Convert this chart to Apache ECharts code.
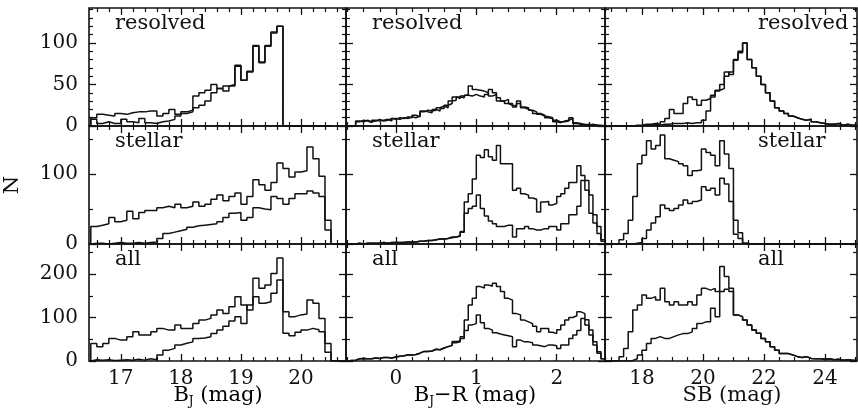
<!DOCTYPE html>
<html><head><meta charset="utf-8">
<script src="https://cdn.jsdelivr.net/npm/echarts@6/dist/echarts.min.js"></script>
<style>html,body{margin:0;padding:0;background:#fff}#c{width:858px;height:408px}</style>
</head><body><div id="c"></div><script>
// ---------- DATA ----------
// B_J histograms: bins of 0.1 mag starting at 16.5
const bjStart = 16.5, bjStep = 0.1;
const bjResolvedA = [10,14,13,12,15,14,16,17,17,18,18,12,15,20,14,17,19,36,40,43,50,45,48,50,73,55,65,97,77,97,112,120,0,0,0,0,0,0,0,0];
const bjResolvedB = [8,3,5,3,3,8,5,4,9,4,3,5,6,8,12,15,17,22,25,30,40,45,42,48,72,55,66,96,76,96,113,120,0,0,0,0,0,0,0,0];
const bjStellarA = [25,27,29,38,32,34,47,36,45,48,48,52,54,52,57,52,54,60,54,57,64,70,62,68,73,57,68,92,85,77,88,116,108,96,103,105,139,122,97,34,0,0,0];
const bjStellarB = [1,1,0,1,2,1,1,2,1,2,3,8,15,17,19,21,24,26,27,28,29,32,38,44,45,34,38,52,50,49,68,65,57,65,72,72,76,73,68,20,0,0,0];
const bjAllA = [40,33,40,52,48,48,56,67,60,60,67,75,71,71,83,75,75,86,94,98,106,117,109,125,148,129,117,190,167,175,201,237,113,102,106,108,140,133,98,40,0,0,0];
const bjAllB = [3,2,3,1,2,3,2,4,2,5,3,14,25,29,37,41,44,52,53,56,63,71,80,92,102,86,129,148,133,136,156,186,64,58,66,71,75,72,67,20,0,0,0];

// B_J - R histograms: bins of 0.05 mag starting at -0.6
const colStart = -0.6, colStep = 0.05;
const colResolvedA = [0,0,5,7,6,4,7,6,7,8,6,9,8,10,9,11,10,12,18,17,16,20,18,21,25,27,35,33,36,38,48,44,43,42,40,36,38,30,30,27,25,24,30,22,20,18,15,15,13,10,9,5,4,6,7,9,3,2,2,1,2,1,1,0];
const colResolvedB = [0,0,6,5,7,5,6,8,6,7,9,8,10,9,11,10,13,11,17,19,18,19,22,24,22,30,31,35,34,37,36,38,36,35,38,44,40,34,30,32,27,23,27,23,22,19,17,14,12,11,10,7,5,5,6,10,4,3,1,2,1,1,0,0];
const colStellarA = [0,0,1,0,1,1,1,1,2,1,2,2,2,2,3,3,3,4,4,5,5,6,7,7,8,10,10,12,18,60,72,93,127,124,135,125,120,141,115,115,115,77,80,72,70,66,64,46,60,61,56,58,68,72,80,88,88,112,98,91,70,42,25,6];
const colStellarB = [0,0,1,0,1,1,1,1,2,1,2,2,2,2,3,3,3,4,4,5,5,6,7,7,8,9,10,11,17,44,51,54,70,51,40,33,29,25,25,27,27,10,22,22,25,22,20,20,22,22,25,25,20,29,29,42,42,54,91,77,44,30,15,4];
const colAllA = [1,2,5,6,5,5,7,6,8,8,7,9,11,12,14,14,15,18,22,22,23,27,26,30,33,36,45,46,56,94,129,144,171,168,175,172,179,171,160,144,140,109,106,94,90,86,80,67,75,75,66,63,72,83,94,100,104,113,109,95,71,44,21,5];
const colAllB = [1,2,5,6,5,5,7,6,8,8,7,9,11,12,14,14,15,18,22,22,23,27,26,30,33,36,42,44,52,70,83,86,106,88,75,71,65,62,60,58,56,33,48,44,44,42,37,35,33,37,37,35,29,37,37,52,60,70,98,83,60,37,18,5];

// SB histograms: bins of 0.15 mag starting at 16.8
const sbStart = 16.8, sbStep = 0.15;
const sbResolvedA = [0,0,0,0,0,0,1,1,2,2,3,2,5,9,20,15,15,27,35,32,25,31,33,37,43,45,65,62,79,88,100,80,70,60,50,40,30,22,18,15,12,10,8,7,8,5,4,3,2,2,3,1,2,1,1];
const sbResolvedB = [0,0,0,0,0,0,0,0,1,1,2,1,2,2,3,3,3,4,3,4,4,7,18,35,42,50,60,65,80,90,100,80,70,60,50,40,30,22,18,15,12,10,8,7,8,5,4,3,2,2,3,1,2,1,1];
const sbStellarA = [0,0,0,6,15,34,68,115,127,148,136,141,156,122,120,118,115,112,98,105,106,136,131,127,112,148,129,108,34,16,1,0,0,0,0,0,0,0,0,0,0,0,0,0,0,0,0,0,0,0,0,0,0,0,0];
const sbStellarB = [0,0,0,0,0,0,1,2,8,20,30,39,56,51,48,51,56,63,58,61,63,82,77,80,70,94,86,61,14,8,1,0,0,0,0,0,0,0,0,0,0,0,0,0,0,0,0,0,0,0,0,0,0,0,0];
const sbAllA = [0,0,0,10,29,67,117,129,152,144,148,140,167,136,129,136,129,129,136,129,152,167,163,167,160,160,165,160,106,102,94,83,71,64,52,44,33,25,17,17,14,10,8,10,6,5,5,4,5,3,4,2,3,2,1];
const sbAllB = [0,0,0,0,0,1,5,14,25,40,52,56,52,52,56,60,63,63,67,75,86,90,90,121,102,217,194,167,106,102,94,83,71,64,52,44,33,25,17,17,14,10,8,10,6,5,5,4,5,3,4,2,3,2,1];

// tick labels
const bjTicks = [17,18,19,20];
const colTicks = [0,1,2];
const sbTicks = [18,20,22,24];
const resolvedTicks = [0,50,100];
const stellarTicks = [0,100];
const allTicks = [0,100,200];
const panelNames = ['resolved','stellar','all'];

// ---------- LAYOUT ----------
const cols = [
  {left:89, width:257, min:16.47, max:20.75, major:bjTicks, minorStep:0.2, start:bjStart, step:bjStep,
   data:[[bjResolvedA,bjResolvedB],[bjStellarA,bjStellarB],[bjAllA,bjAllB]]},
  {left:346, width:259, min:-0.62, max:2.6, major:colTicks, minorStep:0.2, start:colStart, step:colStep,
   data:[[colResolvedA,colResolvedB],[colStellarA,colStellarB],[colAllA,colAllB]]},
  {left:605, width:252, min:16.79, max:25.05, major:sbTicks, minorStep:0.5, start:sbStart, step:sbStep,
   data:[[sbResolvedA,sbResolvedB],[sbStellarA,sbStellarB],[sbAllA,sbAllB]]}
];
const rows = [
  {top:8, height:118, max:142, major:resolvedTicks, minorStep:10},
  {top:126, height:118, max:169, major:stellarTicks, minorStep:50},
  {top:244, height:117, max:269, major:allTicks, minorStep:50}
];

const FONT = 'DejaVu Serif';
const INK = '#111';

function minorList(min, max, step, major) {
  const out = [];
  const k0 = Math.ceil(min / step - 1e-9), k1 = Math.floor(max / step + 1e-9);
  for (let k = k0; k <= k1; k++) {
    const v = Math.round(k * step * 1000) / 1000;
    if (!major.some(m => Math.abs(m - v) < 1e-6)) out.push(v);
  }
  return out;
}
function hist(start, step, vals) {
  const d = [[start, 0]];
  vals.forEach((v, i) => d.push([Math.round((start + i * step) * 1000) / 1000, v]));
  d.push([Math.round((start + vals.length * step) * 1000) / 1000, vals[vals.length - 1]]);
  return d;
}

const grids = [], xAxes = [], yAxes = [], series = [], graphics = [];
rows.forEach((r, ri) => {
  cols.forEach((c, ci) => {
    const g = grids.length;
    grids.push({left:c.left, top:r.top, width:c.width, height:r.height, show:true, containLabel:false,
      outerBoundsMode:'none', borderColor:INK, borderWidth:1.6, backgroundColor:'transparent'});
    const xMinor = minorList(c.min, c.max, c.minorStep, c.major);
    const yMinor = minorList(0, r.max, r.minorStep, r.major);
    const baseX = {type:'value', gridIndex:g, min:c.min, max:c.max, splitLine:{show:false},
      axisLine:{show:false, onZero:false}};
    const baseY = {type:'value', gridIndex:g, min:0, max:r.max, splitLine:{show:false},
      axisLine:{show:false, onZero:false}};
    ['bottom','top'].forEach(pos => {
      xAxes.push(Object.assign({}, baseX, {position:pos,
        axisTick:{show:true, inside:true, length:7, customValues:c.major, lineStyle:{color:INK, width:1.3}},
        axisLabel:{show:(pos==='bottom' && ri===2), customValues:c.major, fontFamily:FONT, fontSize:20, color:INK, margin:8}}));
      xAxes.push(Object.assign({}, baseX, {position:pos,
        axisTick:{show:true, inside:true, length:4, customValues:xMinor, lineStyle:{color:INK, width:1.2}},
        axisLabel:{show:false}}));
    });
    ['left','right'].forEach(pos => {
      const ax = Object.assign({}, baseY, {position:pos,
        axisTick:{show:true, inside:true, length:7, customValues:r.major, lineStyle:{color:INK, width:1.3}},
        axisLabel:{show:(pos==='left' && ci===0), customValues:r.major, fontFamily:FONT, fontSize:20, color:INK, margin:11}});
      if (pos === 'left' && ci === 0 && ri === 1) {
        ax.name = 'N'; ax.nameLocation = 'middle'; ax.nameGap = 66; ax.nameRotate = 90;
        ax.nameTextStyle = {fontFamily:FONT, fontSize:21, color:INK};
      }
      yAxes.push(ax);
      yAxes.push(Object.assign({}, baseY, {position:pos,
        axisTick:{show:true, inside:true, length:4, customValues:yMinor, lineStyle:{color:INK, width:1.2}},
        axisLabel:{show:false}}));
    });
    c.data[ri].forEach(vals => {
      series.push({type:'line', xAxisIndex:4*g, yAxisIndex:4*g, step:'end', symbol:'none',
        data:hist(c.start, c.step, vals), lineStyle:{color:INK, width:1.5}, animation:false, silent:true, clip:true});
    });
    const lx = ci === 2 ? 758 : c.left + 26;
    graphics.push({type:'text', x:lx, y:r.top + 16, style:{text:panelNames[ri], font:'21px "' + FONT + '"',
      fill:INK, textAlign:'left', textVerticalAlign:'middle'}});
  });
});

const richStyles = {b:{fontSize:21, fontFamily:FONT, color:INK}, s:{fontSize:12, fontFamily:FONT, color:INK, padding:[12,0,0,0]}};
graphics.push({type:'text', x:218, y:396, style:{text:'{b|B}{s|J}{b| (mag)}', rich:richStyles, textAlign:'center', textVerticalAlign:'middle'}});
graphics.push({type:'text', x:475, y:396, style:{text:'{b|B}{s|J}{b|\u2212R (mag)}', rich:richStyles, textAlign:'center', textVerticalAlign:'middle'}});
graphics.push({type:'text', x:732, y:396, style:{text:'SB (mag)', font:'21px "' + FONT + '"', fill:INK, textAlign:'center', textVerticalAlign:'middle'}});

const chart = echarts.init(document.getElementById('c'), null, {renderer:'canvas'});
chart.setOption({animation:false, backgroundColor:'#fff', grid:grids, xAxis:xAxes, yAxis:yAxes, series:series, graphic:graphics});
</script></body></html>
